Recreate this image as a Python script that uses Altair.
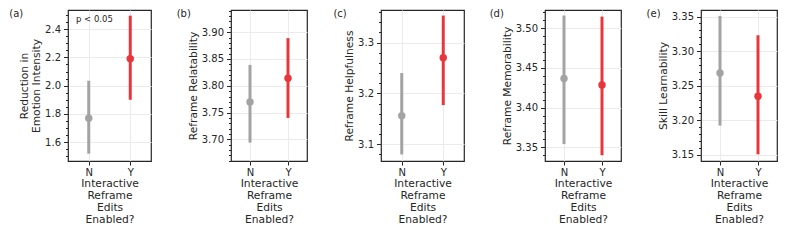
import altair as alt
import numpy as np
import pandas as pd

panels = ["(a)", "(b)", "(c)", "(d)", "(e)"]
y_titles = [["Reduction in", "Emotion Intensity"], "Reframe Relatability",
            "Reframe Helpfulness", "Reframe Memorability", "Skill Learnability"]
x_title = ["Interactive", "Reframe", "Edits", "Enabled?"]
groups = ["N", "Y"]
means = [[1.769, 2.190], [3.770, 3.814], [3.156, 3.270], [3.4366, 3.4285], [3.2685, 3.2348]]
ci_low = [[1.518, 1.900], [3.694, 3.740], [3.080, 3.177], [3.354, 3.340], [3.1925, 3.151]]
ci_high = [[2.035, 2.496], [3.839, 3.889], [3.240, 3.353], [3.516, 3.5147], [3.351, 3.323]]
domains = [[1.466, 2.536], [3.6597, 3.9414], [3.067, 3.364], [3.3327, 3.523], [3.1413, 3.3595]]
major_ticks = [[1.6, 1.8, 2.0, 2.2, 2.4], [3.70, 3.75, 3.80, 3.85, 3.90],
               [3.1, 3.2, 3.3], [3.35, 3.40, 3.45, 3.50], [3.15, 3.20, 3.25, 3.30, 3.35]]
minor_step = [0.05, 0.01, 0.02, 0.01, 0.01]
formats = [".1f", ".2f", ".1f", ".2f", ".2f"]
annot = "p < 0.05"

colors = ["#a3a3a3", "#e8363a"]
widths = [83, 76, 83, 76, 76]
lefts = [58.7, 54.3, 47.6, 55.3, 54.4]
H = 151
FONT = "DejaVu Sans"
INK = "#262626"


def minor_values(dom, step):
    start = np.ceil(dom[0] / step - 1e-9) * step
    vals = np.arange(start, dom[1] + 1e-9, step)
    return [round(float(v), 4) for v in vals]


def panel(i):
    df = pd.DataFrame({"group": groups, "mean": means[i], "lo": ci_low[i], "hi": ci_high[i]})
    base = alt.Chart(df)
    xenc = alt.X("group:N", sort=groups,
                 scale=alt.Scale(type="point", padding=0.5, domain=groups),
                 axis=alt.Axis(title=x_title, labelAngle=0, grid=True, gridColor="#ebebeb",
                               tickSize=4, labelPadding=2, titlePadding=1, titleLineHeight=12,
                               labelFontSize=10, titleFontSize=10.7, titleFontWeight="normal"))
    yscale = alt.Scale(domain=domains[i], nice=False, zero=False)
    cenc = alt.Color("group:N", scale=alt.Scale(domain=groups, range=colors), legend=None)
    rule = base.mark_rule(strokeWidth=3).encode(
        x=xenc,
        y=alt.Y("lo:Q", scale=yscale,
                axis=alt.Axis(values=major_ticks[i], format=formats[i], title=y_titles[i],
                              grid=True, gridColor="#ebebeb", tickSize=4.5, labelPadding=3,
                              titlePadding=3, titleLineHeight=12, labelFontSize=10,
                              titleFontSize=10.7, titleFontWeight="normal")),
        y2="hi:Q", color=cenc)
    pts = base.mark_point(filled=True, size=55, opacity=1).encode(
        x=xenc,
        y=alt.Y("mean:Q", scale=yscale,
                axis=alt.Axis(orient="left", values=minor_values(domains[i], minor_step[i]),
                              labels=False, grid=False, domain=False, tickSize=2.5, title=None)),
        color=cenc)
    lab = alt.Chart(alt.Data(values=[{"t": panels[i]}])).mark_text(
        align="left", baseline="middle", fontSize=10, font=FONT, color=INK).encode(
        x=alt.value(-lefts[i]), y=alt.value(4), text="t:N")
    layers = [rule, pts, lab]
    if i == 0:
        ann = alt.Chart(alt.Data(values=[{"t": annot}])).mark_text(
            align="left", baseline="middle", fontSize=8.5, font=FONT, color=INK).encode(
            x=alt.value(8), y=alt.value(9), text="t:N")
        layers.append(ann)
    return alt.layer(*layers).resolve_axis(y="independent").properties(width=widths[i], height=H)


chart = alt.hconcat(*[panel(i) for i in range(5)], spacing=24).properties(
    padding={"left": 0, "top": 0, "right": 0, "bottom": 0}
).configure_view(stroke=INK, strokeWidth=1.2).configure_axis(
    domain=False, tickColor=INK, labelColor=INK, titleColor=INK,
    labelFont=FONT, titleFont=FONT
).configure_text(font=FONT)

chart.save("out.html", embed_options={"renderer": "svg", "actions": False})
